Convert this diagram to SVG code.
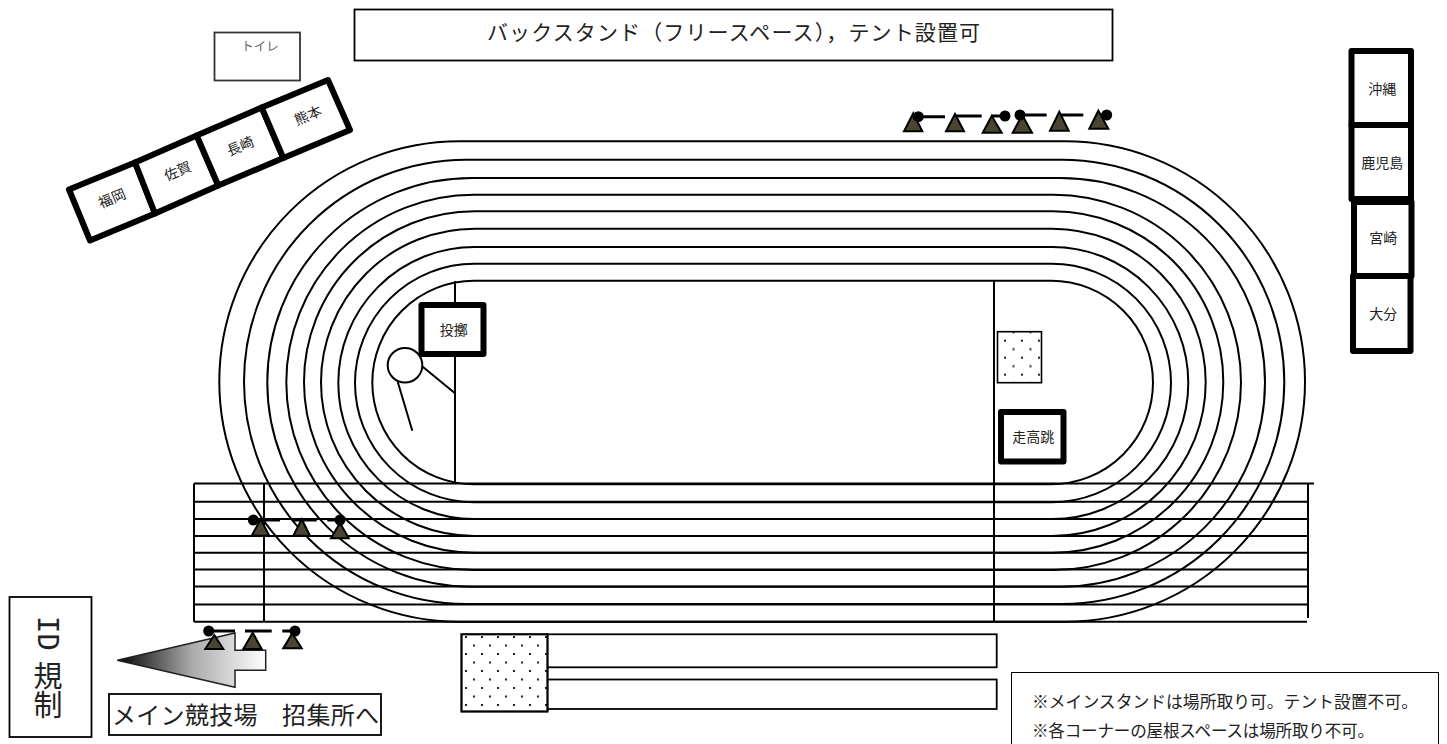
<svg xmlns="http://www.w3.org/2000/svg" width="1447" height="744" viewBox="0 0 1447 744">
<style>
text{font-family:"Noto Sans CJK JP","Noto Sans",sans-serif;fill:#222;text-anchor:middle;dominant-baseline:central}
.t{fill:none;stroke:#000;stroke-width:2}
.l{stroke:#000;stroke-width:2;fill:none}
.b{fill:#fff;stroke:#000;stroke-width:6;stroke-linejoin:round}
.n{fill:#fff;stroke:#000;stroke-width:1.8}
.s{font-size:14px}
.tri{fill:#4a4530;stroke:#000;stroke-width:2;stroke-linejoin:miter}
.bar{stroke:#000;stroke-width:3;fill:none}
.ball{fill:#000}
</style>
<defs>
<pattern id="d1" patternUnits="userSpaceOnUse" x="1005" y="340.7" width="17" height="17"><rect x="-1" y="-1" width="2" height="2" fill="#222"/><rect x="16" y="-1" width="2" height="2" fill="#222"/><rect x="-1" y="16" width="2" height="2" fill="#222"/><rect x="16" y="16" width="2" height="2" fill="#222"/><rect x="7.5" y="7.5" width="2" height="2" fill="#222"/></pattern>
<pattern id="d2" patternUnits="userSpaceOnUse" x="466" y="637" width="16" height="17"><rect x="-1" y="-1" width="2" height="2" fill="#222"/><rect x="15" y="-1" width="2" height="2" fill="#222"/><rect x="-1" y="16" width="2" height="2" fill="#222"/><rect x="15" y="16" width="2" height="2" fill="#222"/><rect x="7" y="7.5" width="2" height="2" fill="#222"/></pattern>
<linearGradient id="ag" gradientUnits="userSpaceOnUse" x1="117" y1="0" x2="266" y2="0"><stop offset="0" stop-color="#000"/><stop offset=".5" stop-color="#aaa"/><stop offset="1" stop-color="#fff"/></linearGradient>
</defs>

<g id="track">
<rect class="t" x="219.3" y="141.3" width="1085.7" height="480.4" rx="240.2" ry="240.2"/>
<rect class="t" x="244" y="159.7" width="1040.3" height="444.3" rx="222.2" ry="222.2"/>
<rect class="t" x="267.3" y="178" width="997.7" height="408.7" rx="204.3" ry="204.3"/>
<rect class="t" x="286.3" y="194.7" width="954.7" height="375.3" rx="187.7" ry="187.7"/>
<rect class="t" x="304" y="211.3" width="919.3" height="341.4" rx="170.7" ry="170.7"/>
<rect class="t" x="321" y="228.7" width="884.7" height="307.3" rx="153.7" ry="153.7"/>
<rect class="t" x="338.3" y="247" width="850" height="272" rx="136" ry="136"/>
<rect class="t" x="355" y="263.7" width="816" height="238.6" rx="119.3" ry="119.3"/>
<rect class="t" x="372.3" y="280.7" width="780.7" height="203.6" rx="101.8" ry="101.8"/>
</g>

<g id="straight">
<path class="l" d="M194 483.5H1314M194 501.7H1307M194 519H1307M194 536H1307M194 552.7H1307M194 569.5H1307M194 586.5H1307M194 604.5H1307M194 621.7H1307"/>
<path class="l" d="M194 483.5V621.7M264 484V621.7M994 281V621.7M455 281V484M1308 484V618"/>
</g>

<g id="throw-sector">
<circle cx="405" cy="365.3" r="17.3" fill="#fff" stroke="#000" stroke-width="2"/>
<path class="l" d="M422.7 366.7L455 393.3M397.7 381.7L412.3 430.7"/>
</g>

<g id="backstand"><rect class="n" x="354.5" y="9.5" width="758" height="51"/><text x="733.5" y="31" font-size="21" textLength="493">バックスタンド（フリースペース），テント設置可</text></g>
<g id="toilet"><rect x="214.5" y="32.5" width="85.5" height="48" fill="#fff" stroke="#333" stroke-width="1.8"/><text x="260" y="45" font-size="12.5" style="fill:#666">トイレ</text></g>

<g id="fukuoka"><polygon class="b" points="69,189.5 135,162.5 155,213.5 90,240.5"/><text class="s" transform="translate(111.7 197.5) rotate(-22.7)">福岡</text></g>
<g id="saga"><polygon class="b" points="135,162.5 196.7,135.5 218.3,185.5 155,213.5"/><text class="s" transform="translate(177.3 170.2) rotate(-22.7)">佐賀</text></g>
<g id="nagasaki"><polygon class="b" points="196.7,135.5 261.7,107.5 283.3,158 218.3,185.5"/><text class="s" transform="translate(240 145.2) rotate(-22.7)">長崎</text></g>
<g id="kumamoto"><polygon class="b" points="261.7,107.5 328,80 350,130 283.3,158"/><text class="s" transform="translate(307.7 114.5) rotate(-22.7)">熊本</text></g>

<g id="okinawa"><rect class="b" x="1351.5" y="51" width="59.5" height="74"/><text class="s" x="1382.3" y="87.5">沖縄</text></g>
<g id="kagoshima"><rect class="b" x="1351.5" y="125" width="59.5" height="74"/><text class="s" x="1382.3" y="161.5">鹿児島</text></g>
<g id="miyazaki"><rect class="b" x="1354" y="202" width="57.5" height="74"/><text class="s" x="1383.3" y="236.5">宮崎</text></g>
<g id="oita"><rect class="b" x="1353" y="276" width="57.5" height="75"/><text class="s" x="1383.3" y="312.5">大分</text></g>

<g id="throwing"><rect class="b" x="421.5" y="305" width="62" height="49"/><text class="s" x="453.7" y="329">投擲</text></g>
<g id="mat-high"><rect x="997.5" y="331.7" width="44" height="51" fill="url(#d1)" stroke="#000" stroke-width="1.6"/></g>
<g id="highjump"><rect class="b" x="1001" y="412" width="62.5" height="49.5"/><text class="s" x="1033.3" y="436">走高跳</text></g>

<g id="arrow"><polygon points="117.3,660.3 235,633 235,650.3 265.7,650.3 265.7,670.3 235,670.3 235,687.3" fill="url(#ag)" stroke="#222" stroke-width="1.5"/></g>

<g id="tents-top">
<path class="bar" d="M918 116.7H945M955 116H981.7M991.7 116H1005M1020 115H1046.7M1060 115H1083.3M1098 115H1106"/>
<polygon class="tri" points="913.3,113.3 904,131.3 922.3,131.3"/><circle class="ball" cx="918.3" cy="116.7" r="5.5"/>
<polygon class="tri" points="955,114 946,131.3 964,131.3"/>
<polygon class="tri" points="991.7,116 982.7,132.7 1001.7,132.7"/><circle class="ball" cx="1005" cy="116" r="5.5"/>
<polygon class="tri" points="1022.3,115 1012.7,132.7 1032,132.7"/><circle class="ball" cx="1020" cy="115" r="5.5"/>
<polygon class="tri" points="1059.3,111.7 1050,130.7 1068.7,130.7"/>
<polygon class="tri" points="1098.3,110.7 1089.3,128.7 1108.3,128.7"/><circle class="ball" cx="1106.7" cy="115" r="5.5"/>
</g>
<g id="tents-mid">
<path class="bar" d="M253 520H280M291.7 520H316.7M327.3 520H340"/>
<polygon class="tri" points="260.7,519.3 251.7,535.7 269.3,535.7"/><circle class="ball" cx="253.3" cy="520" r="5.5"/>
<polygon class="tri" points="301.7,519.3 293.3,535.7 310,535.7"/>
<polygon class="tri" points="340,523 331,538.3 348.7,538.3"/><circle class="ball" cx="340" cy="520" r="5.5"/>
</g>
<g id="tents-bottom">
<path class="bar" d="M209 631H235M245 631H271.7M282.3 631H295"/>
<polygon class="tri" points="214.3,635 205.3,649 223.3,649"/><circle class="ball" cx="208.7" cy="631" r="5.5"/>
<polygon class="tri" points="252.7,632.7 243.3,649 261.7,649"/>
<polygon class="tri" points="292.3,633.3 283.3,648.3 301.7,648.3"/><circle class="ball" cx="295" cy="631" r="5.5"/>
</g>

<g id="id-check"><rect x="9.5" y="597" width="82" height="140" fill="#fff" stroke="#000" stroke-width="1.8"/><text x="48" y="616" font-size="29" style="writing-mode:vertical-rl;text-anchor:start;dominant-baseline:auto"><tspan style="font-family:'DejaVu Sans Mono',monospace">ID</tspan> <tspan y="662">規制</tspan></text></g>
<g id="call-label"><rect x="109" y="694" width="272" height="41" fill="#fff" stroke="#000" stroke-width="1.8"/><text x="245.5" y="713" font-size="24" textLength="267">メイン競技場　招集所へ</text></g>

<g id="stands">
<rect class="n" x="547" y="634.3" width="449.7" height="33"/>
<rect class="n" x="547" y="679.5" width="449.7" height="29.5"/>
<rect x="461.5" y="634.3" width="86" height="77.2" fill="#fff" stroke="#000" stroke-width="1.8"/>
<rect x="461.5" y="634.3" width="86" height="77.2" fill="url(#d2)" stroke="#000" stroke-width="1.8"/>
</g>

<g id="notes"><rect x="1011.5" y="672.5" width="427" height="80" fill="#fff" stroke="#000" stroke-width="1"/>
<text x="1225" y="700.5" font-size="16.8" textLength="386">※メインスタンドは場所取り可。テント設置不可。</text>
<text x="1203" y="729.5" font-size="16.6" textLength="342">※各コーナーの屋根スペースは場所取り不可。</text></g>
</svg>
